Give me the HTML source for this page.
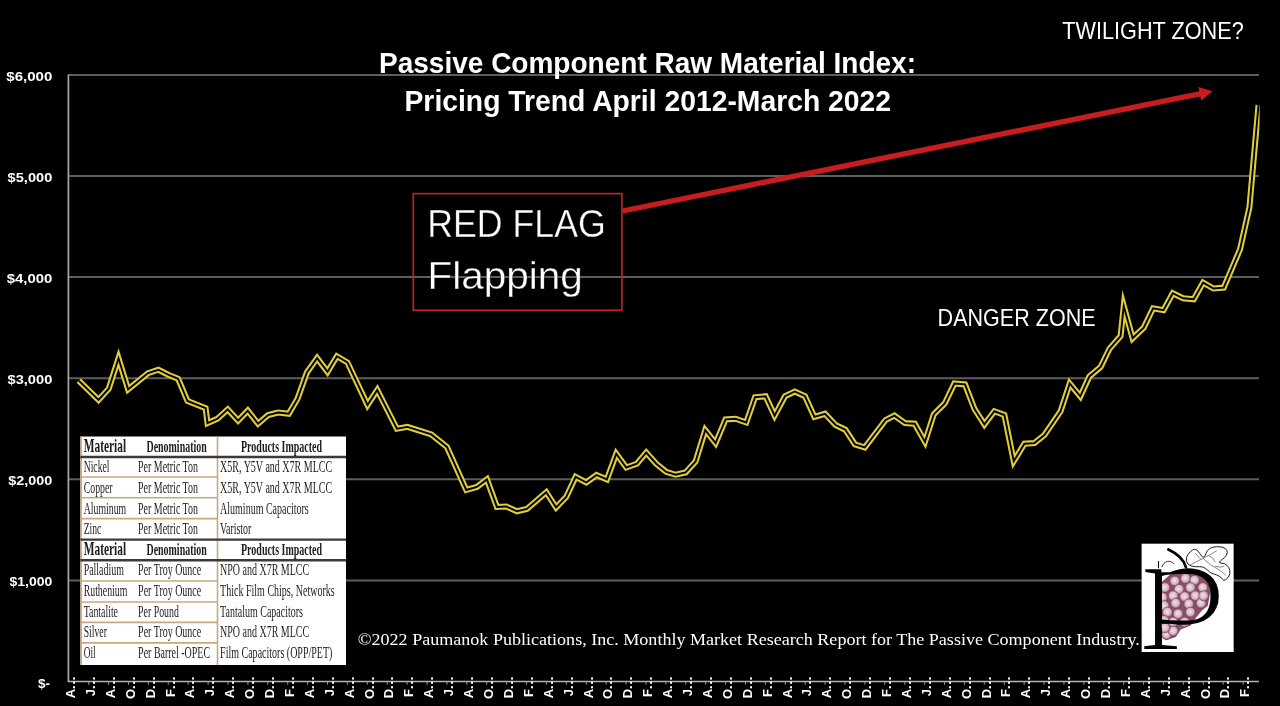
<!DOCTYPE html>
<html lang="en"><head><meta charset="utf-8">
<title>Passive Component Raw Material Index: Pricing Trend April 2012-March 2022</title>
<style>
html,body{margin:0;padding:0;background:#000;overflow:hidden}
svg{display:block}
.sans{font-family:"Liberation Sans", sans-serif}
.serif{font-family:"Liberation Serif", serif}
.w{fill:#fff}
.tb{fill:#1c1c1c}
</style></head><body>
<svg width="1280" height="706" viewBox="0 0 1280 706">
<rect width="1280" height="706" fill="#000"/>
<g stroke="#5e5e5e" stroke-width="2" fill="none">
<line x1="68.4" y1="75.0" x2="1259.0" y2="75.0"/>
<line x1="68.4" y1="176.0" x2="1259.0" y2="176.0"/>
<line x1="68.4" y1="277.1" x2="1259.0" y2="277.1"/>
<line x1="68.4" y1="378.3" x2="1259.0" y2="378.3"/>
<line x1="68.4" y1="479.3" x2="1259.0" y2="479.3"/>
<line x1="68.4" y1="580.5" x2="1259.0" y2="580.5"/>
</g>
<line x1="68.4" y1="74.5" x2="68.4" y2="682.0" stroke="#a9a9a9" stroke-width="1.7"/>
<line x1="67.9" y1="681.5" x2="1259.0" y2="681.5" stroke="#b4b4b4" stroke-width="1.5"/>
<g stroke="#9a9a9a" stroke-width="1">
<line x1="88.65" y1="681.5" x2="88.65" y2="684.7"/>
<line x1="108.56" y1="681.5" x2="108.56" y2="684.7"/>
<line x1="128.46" y1="681.5" x2="128.46" y2="684.7"/>
<line x1="148.37" y1="681.5" x2="148.37" y2="684.7"/>
<line x1="168.27" y1="681.5" x2="168.27" y2="684.7"/>
<line x1="188.17" y1="681.5" x2="188.17" y2="684.7"/>
<line x1="208.08" y1="681.5" x2="208.08" y2="684.7"/>
<line x1="227.98" y1="681.5" x2="227.98" y2="684.7"/>
<line x1="247.89" y1="681.5" x2="247.89" y2="684.7"/>
<line x1="267.79" y1="681.5" x2="267.79" y2="684.7"/>
<line x1="287.69" y1="681.5" x2="287.69" y2="684.7"/>
<line x1="307.60" y1="681.5" x2="307.60" y2="684.7"/>
<line x1="327.50" y1="681.5" x2="327.50" y2="684.7"/>
<line x1="347.41" y1="681.5" x2="347.41" y2="684.7"/>
<line x1="367.31" y1="681.5" x2="367.31" y2="684.7"/>
<line x1="387.21" y1="681.5" x2="387.21" y2="684.7"/>
<line x1="407.12" y1="681.5" x2="407.12" y2="684.7"/>
<line x1="427.02" y1="681.5" x2="427.02" y2="684.7"/>
<line x1="446.93" y1="681.5" x2="446.93" y2="684.7"/>
<line x1="466.83" y1="681.5" x2="466.83" y2="684.7"/>
<line x1="486.73" y1="681.5" x2="486.73" y2="684.7"/>
<line x1="506.64" y1="681.5" x2="506.64" y2="684.7"/>
<line x1="526.54" y1="681.5" x2="526.54" y2="684.7"/>
<line x1="546.45" y1="681.5" x2="546.45" y2="684.7"/>
<line x1="566.35" y1="681.5" x2="566.35" y2="684.7"/>
<line x1="586.25" y1="681.5" x2="586.25" y2="684.7"/>
<line x1="606.16" y1="681.5" x2="606.16" y2="684.7"/>
<line x1="626.06" y1="681.5" x2="626.06" y2="684.7"/>
<line x1="645.97" y1="681.5" x2="645.97" y2="684.7"/>
<line x1="665.87" y1="681.5" x2="665.87" y2="684.7"/>
<line x1="685.77" y1="681.5" x2="685.77" y2="684.7"/>
<line x1="705.68" y1="681.5" x2="705.68" y2="684.7"/>
<line x1="725.58" y1="681.5" x2="725.58" y2="684.7"/>
<line x1="745.49" y1="681.5" x2="745.49" y2="684.7"/>
<line x1="765.39" y1="681.5" x2="765.39" y2="684.7"/>
<line x1="785.29" y1="681.5" x2="785.29" y2="684.7"/>
<line x1="805.20" y1="681.5" x2="805.20" y2="684.7"/>
<line x1="825.10" y1="681.5" x2="825.10" y2="684.7"/>
<line x1="845.01" y1="681.5" x2="845.01" y2="684.7"/>
<line x1="864.91" y1="681.5" x2="864.91" y2="684.7"/>
<line x1="884.81" y1="681.5" x2="884.81" y2="684.7"/>
<line x1="904.72" y1="681.5" x2="904.72" y2="684.7"/>
<line x1="924.62" y1="681.5" x2="924.62" y2="684.7"/>
<line x1="944.53" y1="681.5" x2="944.53" y2="684.7"/>
<line x1="964.43" y1="681.5" x2="964.43" y2="684.7"/>
<line x1="984.33" y1="681.5" x2="984.33" y2="684.7"/>
<line x1="1004.24" y1="681.5" x2="1004.24" y2="684.7"/>
<line x1="1024.14" y1="681.5" x2="1024.14" y2="684.7"/>
<line x1="1044.05" y1="681.5" x2="1044.05" y2="684.7"/>
<line x1="1063.95" y1="681.5" x2="1063.95" y2="684.7"/>
<line x1="1083.85" y1="681.5" x2="1083.85" y2="684.7"/>
<line x1="1103.76" y1="681.5" x2="1103.76" y2="684.7"/>
<line x1="1123.66" y1="681.5" x2="1123.66" y2="684.7"/>
<line x1="1143.57" y1="681.5" x2="1143.57" y2="684.7"/>
<line x1="1163.47" y1="681.5" x2="1163.47" y2="684.7"/>
<line x1="1183.37" y1="681.5" x2="1183.37" y2="684.7"/>
<line x1="1203.28" y1="681.5" x2="1203.28" y2="684.7"/>
<line x1="1223.18" y1="681.5" x2="1223.18" y2="684.7"/>
<line x1="1243.09" y1="681.5" x2="1243.09" y2="684.7"/>
</g>
<g class="sans w" font-size="13.6" font-weight="700" text-anchor="end">
<text x="52.3" y="80.8" textLength="46.0" lengthAdjust="spacingAndGlyphs">$6,000</text>
<text x="52.3" y="181.8" textLength="44.7" lengthAdjust="spacingAndGlyphs">$5,000</text>
<text x="52.3" y="282.9" textLength="45.6" lengthAdjust="spacingAndGlyphs">$4,000</text>
<text x="52.3" y="384.1" textLength="44.8" lengthAdjust="spacingAndGlyphs">$3,000</text>
<text x="52.3" y="485.1" textLength="44.1" lengthAdjust="spacingAndGlyphs">$2,000</text>
<text x="52.3" y="586.3" textLength="42.8" lengthAdjust="spacingAndGlyphs">$1,000</text>
<text x="50" y="687.5">$-</text>
</g>
<g class="sans w" font-size="13" font-weight="700" text-anchor="end">
<text transform="translate(75.00 675.7) rotate(-90)">A<tspan letter-spacing="0.8">...</tspan></text>
<text transform="translate(94.90 675.7) rotate(-90)">J<tspan letter-spacing="0.8">...</tspan></text>
<text transform="translate(114.81 675.7) rotate(-90)">A<tspan letter-spacing="0.8">...</tspan></text>
<text transform="translate(134.71 675.7) rotate(-90)">O<tspan letter-spacing="0.8">...</tspan></text>
<text transform="translate(154.62 675.7) rotate(-90)">D<tspan letter-spacing="0.8">...</tspan></text>
<text transform="translate(174.52 675.7) rotate(-90)">F<tspan letter-spacing="0.8">...</tspan></text>
<text transform="translate(194.42 675.7) rotate(-90)">A<tspan letter-spacing="0.8">...</tspan></text>
<text transform="translate(214.33 675.7) rotate(-90)">J<tspan letter-spacing="0.8">...</tspan></text>
<text transform="translate(234.23 675.7) rotate(-90)">A<tspan letter-spacing="0.8">...</tspan></text>
<text transform="translate(254.14 675.7) rotate(-90)">O<tspan letter-spacing="0.8">...</tspan></text>
<text transform="translate(274.04 675.7) rotate(-90)">D<tspan letter-spacing="0.8">...</tspan></text>
<text transform="translate(293.94 675.7) rotate(-90)">F<tspan letter-spacing="0.8">...</tspan></text>
<text transform="translate(313.85 675.7) rotate(-90)">A<tspan letter-spacing="0.8">...</tspan></text>
<text transform="translate(333.75 675.7) rotate(-90)">J<tspan letter-spacing="0.8">...</tspan></text>
<text transform="translate(353.66 675.7) rotate(-90)">A<tspan letter-spacing="0.8">...</tspan></text>
<text transform="translate(373.56 675.7) rotate(-90)">O<tspan letter-spacing="0.8">...</tspan></text>
<text transform="translate(393.46 675.7) rotate(-90)">D<tspan letter-spacing="0.8">...</tspan></text>
<text transform="translate(413.37 675.7) rotate(-90)">F<tspan letter-spacing="0.8">...</tspan></text>
<text transform="translate(433.27 675.7) rotate(-90)">A<tspan letter-spacing="0.8">...</tspan></text>
<text transform="translate(453.18 675.7) rotate(-90)">J<tspan letter-spacing="0.8">...</tspan></text>
<text transform="translate(473.08 675.7) rotate(-90)">A<tspan letter-spacing="0.8">...</tspan></text>
<text transform="translate(492.98 675.7) rotate(-90)">O<tspan letter-spacing="0.8">...</tspan></text>
<text transform="translate(512.89 675.7) rotate(-90)">D<tspan letter-spacing="0.8">...</tspan></text>
<text transform="translate(532.79 675.7) rotate(-90)">F<tspan letter-spacing="0.8">...</tspan></text>
<text transform="translate(552.70 675.7) rotate(-90)">A<tspan letter-spacing="0.8">...</tspan></text>
<text transform="translate(572.60 675.7) rotate(-90)">J<tspan letter-spacing="0.8">...</tspan></text>
<text transform="translate(592.50 675.7) rotate(-90)">A<tspan letter-spacing="0.8">...</tspan></text>
<text transform="translate(612.41 675.7) rotate(-90)">O<tspan letter-spacing="0.8">...</tspan></text>
<text transform="translate(632.31 675.7) rotate(-90)">D<tspan letter-spacing="0.8">...</tspan></text>
<text transform="translate(652.22 675.7) rotate(-90)">F<tspan letter-spacing="0.8">...</tspan></text>
<text transform="translate(672.12 675.7) rotate(-90)">A<tspan letter-spacing="0.8">...</tspan></text>
<text transform="translate(692.02 675.7) rotate(-90)">J<tspan letter-spacing="0.8">...</tspan></text>
<text transform="translate(711.93 675.7) rotate(-90)">A<tspan letter-spacing="0.8">...</tspan></text>
<text transform="translate(731.83 675.7) rotate(-90)">O<tspan letter-spacing="0.8">...</tspan></text>
<text transform="translate(751.74 675.7) rotate(-90)">D<tspan letter-spacing="0.8">...</tspan></text>
<text transform="translate(771.64 675.7) rotate(-90)">F<tspan letter-spacing="0.8">...</tspan></text>
<text transform="translate(791.54 675.7) rotate(-90)">A<tspan letter-spacing="0.8">...</tspan></text>
<text transform="translate(811.45 675.7) rotate(-90)">J<tspan letter-spacing="0.8">...</tspan></text>
<text transform="translate(831.35 675.7) rotate(-90)">A<tspan letter-spacing="0.8">...</tspan></text>
<text transform="translate(851.26 675.7) rotate(-90)">O<tspan letter-spacing="0.8">...</tspan></text>
<text transform="translate(871.16 675.7) rotate(-90)">D<tspan letter-spacing="0.8">...</tspan></text>
<text transform="translate(891.06 675.7) rotate(-90)">F<tspan letter-spacing="0.8">...</tspan></text>
<text transform="translate(910.97 675.7) rotate(-90)">A<tspan letter-spacing="0.8">...</tspan></text>
<text transform="translate(930.87 675.7) rotate(-90)">J<tspan letter-spacing="0.8">...</tspan></text>
<text transform="translate(950.78 675.7) rotate(-90)">A<tspan letter-spacing="0.8">...</tspan></text>
<text transform="translate(970.68 675.7) rotate(-90)">O<tspan letter-spacing="0.8">...</tspan></text>
<text transform="translate(990.58 675.7) rotate(-90)">D<tspan letter-spacing="0.8">...</tspan></text>
<text transform="translate(1010.49 675.7) rotate(-90)">F<tspan letter-spacing="0.8">...</tspan></text>
<text transform="translate(1030.39 675.7) rotate(-90)">A<tspan letter-spacing="0.8">...</tspan></text>
<text transform="translate(1050.30 675.7) rotate(-90)">J<tspan letter-spacing="0.8">...</tspan></text>
<text transform="translate(1070.20 675.7) rotate(-90)">A<tspan letter-spacing="0.8">...</tspan></text>
<text transform="translate(1090.10 675.7) rotate(-90)">O<tspan letter-spacing="0.8">...</tspan></text>
<text transform="translate(1110.01 675.7) rotate(-90)">D<tspan letter-spacing="0.8">...</tspan></text>
<text transform="translate(1129.91 675.7) rotate(-90)">F<tspan letter-spacing="0.8">...</tspan></text>
<text transform="translate(1149.82 675.7) rotate(-90)">A<tspan letter-spacing="0.8">...</tspan></text>
<text transform="translate(1169.72 675.7) rotate(-90)">J<tspan letter-spacing="0.8">...</tspan></text>
<text transform="translate(1189.62 675.7) rotate(-90)">A<tspan letter-spacing="0.8">...</tspan></text>
<text transform="translate(1209.53 675.7) rotate(-90)">O<tspan letter-spacing="0.8">...</tspan></text>
<text transform="translate(1229.43 675.7) rotate(-90)">D<tspan letter-spacing="0.8">...</tspan></text>
<text transform="translate(1249.34 675.7) rotate(-90)">F<tspan letter-spacing="0.8">...</tspan></text>
</g>
<clipPath id="plot"><rect x="68.4" y="60" width="1191.1999999999998" height="640"/></clipPath>
<g clip-path="url(#plot)" fill="none" stroke-linejoin="miter" stroke-miterlimit="30" stroke-linecap="butt">
<path d="M78.75 380.60 L98.50 400.00 L108.75 388.75 L118.50 358.30 L128.10 389.40 L148.10 373.10 L158.40 369.75 L168.75 375.00 L178.10 378.75 L187.50 401.00 L205.60 408.10 L207.50 423.10 L217.50 418.75 L227.75 409.40 L238.10 420.60 L247.75 410.60 L258.10 423.75 L268.10 415.00 L278.10 412.50 L288.75 413.75 L297.50 398.75 L306.90 372.50 L317.10 358.10 L327.50 371.90 L336.90 356.25 L347.50 362.50 L367.50 405.00 L377.25 390.00 L396.90 428.75 L407.50 426.90 L431.25 434.40 L446.90 446.90 L466.25 490.00 L476.90 486.90 L486.90 479.40 L496.90 506.90 L506.25 506.50 L516.90 511.25 L526.90 509.00 L546.25 492.20 L556.10 507.50 L566.25 496.90 L575.60 476.90 L586.25 482.50 L596.50 475.00 L606.90 479.40 L616.25 453.75 L626.25 467.50 L636.90 463.75 L646.25 452.50 L656.25 463.75 L666.25 471.90 L675.60 474.75 L685.60 472.50 L695.60 461.50 L705.25 430.00 L715.60 443.10 L725.60 419.40 L735.60 418.75 L746.25 422.50 L755.00 397.25 L765.60 396.25 L774.60 415.60 L785.00 396.25 L794.75 391.50 L805.00 396.25 L814.40 416.90 L825.00 413.75 L835.60 425.00 L845.30 429.70 L855.00 444.40 L864.75 447.50 L885.60 420.00 L894.40 415.60 L905.00 423.10 L914.75 423.75 L925.00 441.90 L933.75 414.40 L944.75 403.50 L954.40 383.50 L965.00 384.40 L974.40 408.75 L984.40 424.40 L994.40 411.25 L1004.40 415.00 L1013.75 461.25 L1024.40 443.75 L1034.40 443.10 L1044.40 435.00 L1060.60 411.25 L1069.70 383.50 L1080.30 396.30 L1089.40 376.40 L1100.60 367.00 L1109.40 348.90 L1120.60 336.00 L1123.75 306.00 L1132.60 338.25 L1143.75 327.60 L1153.10 308.25 L1163.50 310.10 L1172.75 293.25 L1183.10 298.25 L1193.75 299.25 L1203.10 282.60 L1213.50 288.50 L1223.75 287.60 L1240.00 249.40 L1249.40 207.50 L1258.50 105.00" stroke="#dfce3c" stroke-width="6.0"/>
<path d="M78.75 380.60 L98.50 400.00 L108.75 388.75 L118.50 358.30 L128.10 389.40 L148.10 373.10 L158.40 369.75 L168.75 375.00 L178.10 378.75 L187.50 401.00 L205.60 408.10 L207.50 423.10 L217.50 418.75 L227.75 409.40 L238.10 420.60 L247.75 410.60 L258.10 423.75 L268.10 415.00 L278.10 412.50 L288.75 413.75 L297.50 398.75 L306.90 372.50 L317.10 358.10 L327.50 371.90 L336.90 356.25 L347.50 362.50 L367.50 405.00 L377.25 390.00 L396.90 428.75 L407.50 426.90 L431.25 434.40 L446.90 446.90 L466.25 490.00 L476.90 486.90 L486.90 479.40 L496.90 506.90 L506.25 506.50 L516.90 511.25 L526.90 509.00 L546.25 492.20 L556.10 507.50 L566.25 496.90 L575.60 476.90 L586.25 482.50 L596.50 475.00 L606.90 479.40 L616.25 453.75 L626.25 467.50 L636.90 463.75 L646.25 452.50 L656.25 463.75 L666.25 471.90 L675.60 474.75 L685.60 472.50 L695.60 461.50 L705.25 430.00 L715.60 443.10 L725.60 419.40 L735.60 418.75 L746.25 422.50 L755.00 397.25 L765.60 396.25 L774.60 415.60 L785.00 396.25 L794.75 391.50 L805.00 396.25 L814.40 416.90 L825.00 413.75 L835.60 425.00 L845.30 429.70 L855.00 444.40 L864.75 447.50 L885.60 420.00 L894.40 415.60 L905.00 423.10 L914.75 423.75 L925.00 441.90 L933.75 414.40 L944.75 403.50 L954.40 383.50 L965.00 384.40 L974.40 408.75 L984.40 424.40 L994.40 411.25 L1004.40 415.00 L1013.75 461.25 L1024.40 443.75 L1034.40 443.10 L1044.40 435.00 L1060.60 411.25 L1069.70 383.50 L1080.30 396.30 L1089.40 376.40 L1100.60 367.00 L1109.40 348.90 L1120.60 336.00 L1123.75 306.00 L1132.60 338.25 L1143.75 327.60 L1153.10 308.25 L1163.50 310.10 L1172.75 293.25 L1183.10 298.25 L1193.75 299.25 L1203.10 282.60 L1213.50 288.50 L1223.75 287.60 L1240.00 249.40 L1249.40 207.50 L1258.50 105.00" stroke="#000" stroke-width="1.9"/>
</g>
<g class="sans w" font-size="29.2" font-weight="700">
<text x="379" y="73.1" textLength="537" lengthAdjust="spacingAndGlyphs">Passive Component Raw Material Index:</text>
<text x="404.5" y="111.0" textLength="486.5" lengthAdjust="spacingAndGlyphs">Pricing Trend April 2012-March 2022</text>
</g>
<g class="sans w" font-size="23.2">
<text x="1062.3" y="39.2" textLength="181.4" lengthAdjust="spacingAndGlyphs">TWILIGHT ZONE?</text>
<text x="937.6" y="326.4" textLength="158" lengthAdjust="spacingAndGlyphs">DANGER ZONE</text>
</g>
<rect x="413.3" y="193.6" width="208.6" height="116.6" fill="none" stroke="#c42326" stroke-width="1.6"/>
<g class="sans w" font-size="38.3" stroke="#000" stroke-width="0.35">
<text x="427.2" y="237.2" textLength="178.6" lengthAdjust="spacingAndGlyphs">RED FLAG</text>
<text x="427.4" y="288.7" textLength="155.4" lengthAdjust="spacingAndGlyphs">Flapping</text>
</g>
<line x1="622.6" y1="211.0" x2="1200.74" y2="93.69" stroke="#c81d1f" stroke-width="5.3"/>
<polygon points="1212.50,91.30 1201.15,100.75 1198.37,87.03" fill="#c81d1f"/>
<rect x="80.4" y="436.5" width="265.6" height="228.5" fill="#fff"/>
<g stroke="#c9a97c" stroke-width="1.6">
<line x1="217.5" y1="436.5" x2="217.5" y2="665.0"/>
<line x1="81.10000000000001" y1="436.5" x2="81.10000000000001" y2="665.0"/>
<line x1="80.4" y1="477.0" x2="217.5" y2="477.0"/>
<line x1="80.4" y1="497.8" x2="217.5" y2="497.8"/>
<line x1="80.4" y1="518.6" x2="217.5" y2="518.6"/>
<line x1="80.4" y1="581.0" x2="217.5" y2="581.0"/>
<line x1="80.4" y1="602.0" x2="217.5" y2="602.0"/>
<line x1="80.4" y1="622.4" x2="217.5" y2="622.4"/>
<line x1="80.4" y1="642.9" x2="217.5" y2="642.9"/>
</g>
<g stroke="#3a3a3a" stroke-width="2.4">
<line x1="80.4" y1="457.0" x2="346.0" y2="457.0"/>
<line x1="80.4" y1="539.6" x2="346.0" y2="539.6"/>
<line x1="80.4" y1="560.2" x2="346.0" y2="560.2"/>
</g>
<g class="serif tb">
<text x="83.7" y="451.5" font-size="19" font-weight="700" textLength="42.4" lengthAdjust="spacingAndGlyphs">Material</text>
<text x="146.5" y="451.5" font-size="16" font-weight="700" textLength="60.2" lengthAdjust="spacingAndGlyphs">Denomination</text>
<text x="241" y="451.5" font-size="16" font-weight="700" textLength="81" lengthAdjust="spacingAndGlyphs">Products Impacted</text>
<text x="83.7" y="554.6" font-size="19" font-weight="700" textLength="42.4" lengthAdjust="spacingAndGlyphs">Material</text>
<text x="146.5" y="554.6" font-size="16" font-weight="700" textLength="60.2" lengthAdjust="spacingAndGlyphs">Denomination</text>
<text x="241" y="554.6" font-size="16" font-weight="700" textLength="81" lengthAdjust="spacingAndGlyphs">Products Impacted</text>
<text x="83.7" y="472.1" font-size="16" textLength="25.8" lengthAdjust="spacingAndGlyphs">Nickel</text>
<text x="138.1" y="472.1" font-size="16" textLength="59.8" lengthAdjust="spacingAndGlyphs">Per Metric Ton</text>
<text x="220.1" y="472.1" font-size="16" textLength="112" lengthAdjust="spacingAndGlyphs">X5R, Y5V and X7R MLCC</text>
<text x="83.7" y="492.8" font-size="16" textLength="28.9" lengthAdjust="spacingAndGlyphs">Copper</text>
<text x="138.1" y="492.8" font-size="16" textLength="59.8" lengthAdjust="spacingAndGlyphs">Per Metric Ton</text>
<text x="220.1" y="492.8" font-size="16" textLength="112" lengthAdjust="spacingAndGlyphs">X5R, Y5V and X7R MLCC</text>
<text x="83.7" y="513.6" font-size="16" textLength="42.5" lengthAdjust="spacingAndGlyphs">Aluminum</text>
<text x="138.1" y="513.6" font-size="16" textLength="59.8" lengthAdjust="spacingAndGlyphs">Per Metric Ton</text>
<text x="220.1" y="513.6" font-size="16" textLength="88.6" lengthAdjust="spacingAndGlyphs">Aluminum Capacitors</text>
<text x="83.7" y="534.3" font-size="16" textLength="17.6" lengthAdjust="spacingAndGlyphs">Zinc</text>
<text x="138.1" y="534.3" font-size="16" textLength="59.8" lengthAdjust="spacingAndGlyphs">Per Metric Ton</text>
<text x="220.1" y="534.3" font-size="16" textLength="31.2" lengthAdjust="spacingAndGlyphs">Varistor</text>
<text x="83.7" y="575.4" font-size="16" textLength="40.2" lengthAdjust="spacingAndGlyphs">Palladium</text>
<text x="138.1" y="575.4" font-size="16" textLength="63" lengthAdjust="spacingAndGlyphs">Per Troy Ounce</text>
<text x="220.1" y="575.4" font-size="16" textLength="89" lengthAdjust="spacingAndGlyphs">NPO and X7R MLCC</text>
<text x="83.7" y="596.2" font-size="16" textLength="43.6" lengthAdjust="spacingAndGlyphs">Ruthenium</text>
<text x="138.1" y="596.2" font-size="16" textLength="63" lengthAdjust="spacingAndGlyphs">Per Troy Ounce</text>
<text x="220.1" y="596.2" font-size="16" textLength="114.6" lengthAdjust="spacingAndGlyphs">Thick Film Chips, Networks</text>
<text x="83.7" y="616.8" font-size="16" textLength="34.3" lengthAdjust="spacingAndGlyphs">Tantalite</text>
<text x="138.1" y="616.8" font-size="16" textLength="40.7" lengthAdjust="spacingAndGlyphs">Per Pound</text>
<text x="220.1" y="616.8" font-size="16" textLength="82.9" lengthAdjust="spacingAndGlyphs">Tantalum Capacitors</text>
<text x="83.7" y="637.3" font-size="16" textLength="23.2" lengthAdjust="spacingAndGlyphs">Silver</text>
<text x="138.1" y="637.3" font-size="16" textLength="63" lengthAdjust="spacingAndGlyphs">Per Troy Ounce</text>
<text x="220.1" y="637.3" font-size="16" textLength="89" lengthAdjust="spacingAndGlyphs">NPO and X7R MLCC</text>
<text x="83.7" y="658.0" font-size="16" textLength="12" lengthAdjust="spacingAndGlyphs">Oil</text>
<text x="138.1" y="658.0" font-size="16" textLength="72" lengthAdjust="spacingAndGlyphs">Per Barrel -OPEC</text>
<text x="220.1" y="658.0" font-size="16" textLength="112.3" lengthAdjust="spacingAndGlyphs">Film Capacitors (OPP/PET)</text>
</g>
<text class="serif w" x="357.8" y="645" font-size="17.5" textLength="782" lengthAdjust="spacingAndGlyphs">©2022 Paumanok Publications, Inc. Monthly Market Research Report for The Passive Component Industry.</text>
<defs><radialGradient id="gr" cx="0.45" cy="0.45" r="0.6"><stop offset="0" stop-color="#efe4e9"/><stop offset="0.6" stop-color="#d3b6c3"/><stop offset="0.86" stop-color="#a8748b"/><stop offset="1" stop-color="#87465f"/></radialGradient>
<filter id="thin" x="1130" y="540" width="120" height="120" filterUnits="userSpaceOnUse"><feMorphology operator="erode" radius="4 0"/></filter><clipPath id="lg"><rect x="1141.4" y="543.4" width="92.4" height="108.6"/></clipPath></defs>
<g id="logo" clip-path="url(#lg)">
<rect x="1141.4" y="543.4" width="92.4" height="108.6" fill="#fff"/>
<polygon fill="#8c4d67" points="1161.0,582.7 1170.8,573.7 1187.3,572.0 1200.4,574.5 1208.6,582.7 1210.2,592.5 1207.8,605.7 1202.0,610.6 1196.3,617.2 1190.5,625.4 1180.7,629.5 1175.8,636.9 1165.9,640.2 1161.0,636.9"/>
<g fill="url(#gr)" stroke="#84425d" stroke-width="0.7">
<circle cx="1174.9" cy="581.1" r="5.0"/>
<circle cx="1185.6" cy="578.6" r="5.0"/>
<circle cx="1194.7" cy="580.2" r="5.0"/>
<circle cx="1165.1" cy="587.6" r="5.0"/>
<circle cx="1179.1" cy="589.3" r="5.0"/>
<circle cx="1190.5" cy="587.6" r="5.0"/>
<circle cx="1202.9" cy="587.6" r="5.0"/>
<circle cx="1162.6" cy="597.5" r="5.0"/>
<circle cx="1173.3" cy="595.8" r="5.0"/>
<circle cx="1184.8" cy="596.7" r="5.0"/>
<circle cx="1195.5" cy="595.8" r="5.0"/>
<circle cx="1164.3" cy="605.7" r="5.0"/>
<circle cx="1175.8" cy="603.2" r="5.0"/>
<circle cx="1188.9" cy="604.0" r="5.0"/>
<circle cx="1201.2" cy="603.2" r="5.0"/>
<circle cx="1167.6" cy="612.2" r="5.0"/>
<circle cx="1178.2" cy="613.9" r="5.0"/>
<circle cx="1190.5" cy="612.2" r="5.0"/>
<circle cx="1164.3" cy="620.5" r="5.0"/>
<circle cx="1173.3" cy="622.1" r="5.0"/>
<circle cx="1184.8" cy="622.1" r="5.0"/>
<circle cx="1166.7" cy="634.4" r="5.0"/>
<circle cx="1173.3" cy="631.1" r="5.0"/>
<circle cx="1165.1" cy="627.8" r="5.0"/>
<circle cx="1203.7" cy="595.8" r="5.0"/>
</g>
<g filter="url(#thin)"><text class="serif" font-size="119" fill="#000" transform="translate(1140.2 624) scale(1.56 1) translate(-1.9 0)">p</text></g>
<path d="M1168.4 549.5 C1178.2 554.0 1184.0 560.5 1185.9 567.1" fill="none" stroke="#000" stroke-width="2.8" stroke-linecap="round"/>
<path d="M1158.5 561.0 L1158.5 568.2" stroke="#000" stroke-width="1.1" fill="none"/>
<path d="M1161.8 567.1 C1164.3 560.5 1170.0 559.7 1174.1 563.8" fill="none" stroke="#222" stroke-width="0.9"/>
<path fill="#fff" stroke="#1e1e1e" stroke-width="1" stroke-linejoin="round" d="M1191.2 565.9 Q1186.9 564.6 1186.4 560.9 Q1185.9 557.2 1188.1 554.4 Q1190.2 551.5 1192.4 550.0 Q1194.7 548.5 1196.9 550.2 Q1199.1 551.8 1200.7 554.8 Q1202.4 557.7 1203.7 557.1 Q1205.0 556.4 1206.0 553.3 Q1207.0 550.2 1209.8 548.5 Q1212.7 546.9 1216.4 546.7 Q1220.1 546.6 1223.0 547.4 Q1225.8 548.2 1226.9 550.5 Q1228.0 552.8 1226.3 555.3 Q1224.7 557.7 1222.4 559.4 Q1220.1 561.0 1219.4 562.0 Q1218.8 563.0 1221.9 563.2 Q1225.0 563.3 1227.2 565.5 Q1229.3 567.6 1229.8 570.6 Q1230.3 573.7 1228.9 576.1 Q1227.5 578.6 1225.4 579.8 Q1223.4 581.1 1222.4 579.2 Q1221.4 577.4 1219.1 576.1 Q1216.8 574.8 1214.4 574.2 Q1211.9 573.7 1209.8 572.0 Q1207.8 570.4 1205.3 568.3 Q1202.9 566.3 1199.2 566.7 Q1195.5 567.1 1191.2 565.9Z"/>
<polyline fill="none" stroke="#6a6a6a" stroke-width="0.8" points="1190.5,564.6 1200.4,559.7 1208.6,555.6 1216.8,550.7"/>
<polyline fill="none" stroke="#6a6a6a" stroke-width="0.8" points="1202.9,558.1 1210.2,564.6 1220.1,570.4 1225.8,575.3"/>
<polyline fill="none" stroke="#6a6a6a" stroke-width="0.8" points="1195.5,553.1 1198.8,557.2 1201.2,559.7"/>
<polyline fill="none" stroke="#6a6a6a" stroke-width="0.8" points="1215.2,566.3 1220.1,567.1 1224.2,566.3"/>
<polyline fill="none" stroke="#6a6a6a" stroke-width="0.8" points="1208.6,555.6 1212.7,558.1 1215.2,562.2"/>
</g>
</svg>
</body></html>
